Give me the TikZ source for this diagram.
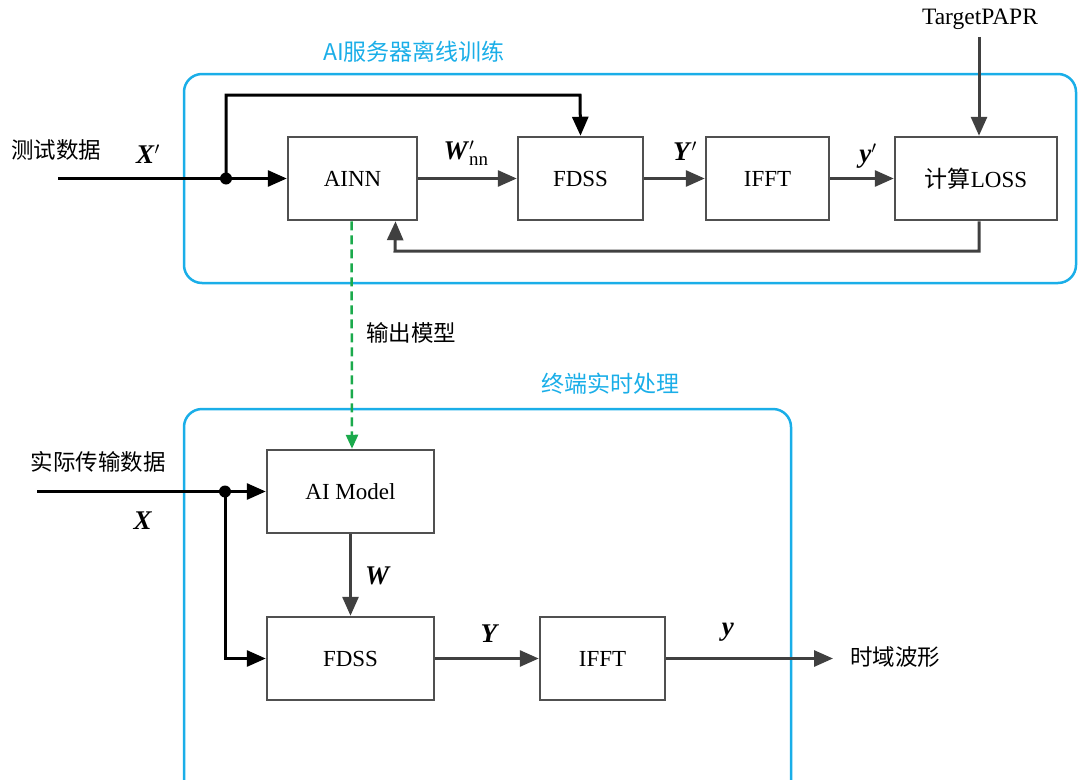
\documentclass[tikz,border=0pt]{standalone}
\usepackage{fontspec}
\setmainfont{Liberation Serif}
\newfontfamily\cjk{Noto Sans CJK SC}
\usetikzlibrary{arrows.meta}
\definecolor{cblue}{HTML}{1AAEE8}
\definecolor{cgreen}{HTML}{1BAA4C}
\definecolor{cbox}{HTML}{505050}
\definecolor{cline}{HTML}{404040}
\newcommand{\bv}[1]{\textbf{\textit{#1}}}
\tikzset{
  blk/.style={draw=cbox, line width=2.5pt, minimum width=#1, minimum height=83pt, inner sep=0pt, font=\fontsize{23}{25}\selectfont},
  blk/.default=125pt,
  cluster/.style={draw=cblue, line width=2.5pt, rounded corners=18pt},
  ctitle/.style={text=cblue, font=\cjk\fontsize{23}{25}\selectfont},
  lbl/.style={font=\cjk\fontsize{22.5}{25}\selectfont, inner sep=0pt},
  mlbl/.style={font=\fontsize{27}{29}\selectfont, inner sep=0pt},
  garr/.style={draw=cline, line width=3pt, -{Triangle[length=19pt,width=16pt]}},
  barr/.style={draw=black, line width=3pt, -{Triangle[length=19pt,width=16pt]}},
  dot/.style={circle, fill=black, inner sep=0pt, minimum size=12pt},
}
\begin{document}
\begin{tikzpicture}[x=1pt,y=-1pt]
\useasboundingbox (0,0) rectangle (1078,779);
\clip (0,0) rectangle (1078,779);
% clusters
\draw[cluster] (184,74) rectangle (1076,283);
\node[ctitle] (t1) at (414,52) {AI服务器离线训练};
\draw[cluster] (184,409) rectangle (791,800);
\node[ctitle] (t2) at (610,384) {终端实时处理};
% top blocks
\node[blk=129pt] (ainn) at (352.5,178.5) {AINN};
\node[blk] (fdss1) at (580.5,178.5) {FDSS};
\node[blk=123pt] (ifft1) at (767.5,178.5) {IFFT};
\node[blk=162pt] (loss) at (976,178.5) {{\cjk 计算}LOSS};
% top texts
\node[font=\fontsize{23.5}{25}\selectfont] (tp) at (980,19) {TargetPAPR};
\node[lbl] (in1) at (56,150) {测试数据};
\node[mlbl] (x1) at (148,154) {\bv{X}$'$};
\node[mlbl] (w1) at (466,153) {\bv{W}$'_{\mathrm{nn}}$};
\node[mlbl] (y1) at (685,151) {\bv{Y}$'$};
\node[mlbl] (yy1) at (868,156) {\bv{y}$'$};
\coordinate (s1) at (58,178.5);
\node[dot] (d1) at (226,178.5) {};
% top connectors
\draw[barr] (s1) -- (ainn.west);
\draw[barr] (d1.center) |- (580,95) -- (fdss1.north);
\draw[garr] (ainn.east) -- (fdss1.west);
\draw[garr] (fdss1.east) -- (ifft1.west);
\draw[garr] (ifft1.east) -- (loss.west);
\draw[garr] ([xshift=3pt]tp.south -| loss.north) ++(0,4) -- ([xshift=3pt]loss.north);
\draw[garr] ([xshift=3pt]loss.south) |- (395,251) -- ([xshift=43pt]ainn.south);
% bottom blocks
\node[blk=167pt] (aim) at (350.5,491.5) {AI Model};
\node[blk=167pt] (fdss2) at (350.5,658.5) {FDSS};
\node[blk=125pt] (ifft2) at (602.5,658.5) {IFFT};
% dashed
\draw[draw=cgreen, line width=2.5pt, dash pattern=on 9pt off 5pt, -{Triangle[length=14pt,width=12pt]}] ([xshift=-1pt]ainn.south) -- ([xshift=1.5pt]aim.north);
\node[lbl] (om) at (411,333) {输出模型};
% bottom texts
\node[lbl] (in2) at (98,462) {实际传输数据};
\node[mlbl] (x2) at (143,521) {\bv{X}};
\node[mlbl] (w2) at (378,576) {\bv{W}};
\node[mlbl] (y2) at (490,634) {\bv{Y}};
\node[mlbl] (yy2) at (728,632) {\bv{y}};
\node[lbl] (out) at (895,657) {时域波形};
\coordinate (s2) at (37,491.5);
\node[dot] (d2) at (225,491.5) {};
\coordinate (e2) at (833,658.5);
% bottom connectors
\draw[barr] (s2) -- (aim.west);
\draw[barr] (d2.center) |- (fdss2.west);
\draw[garr] (aim.south) -- (fdss2.north);
\draw[garr] (fdss2.east) -- (ifft2.west);
\draw[garr] (ifft2.east) -- (e2);
\end{tikzpicture}
\end{document}
